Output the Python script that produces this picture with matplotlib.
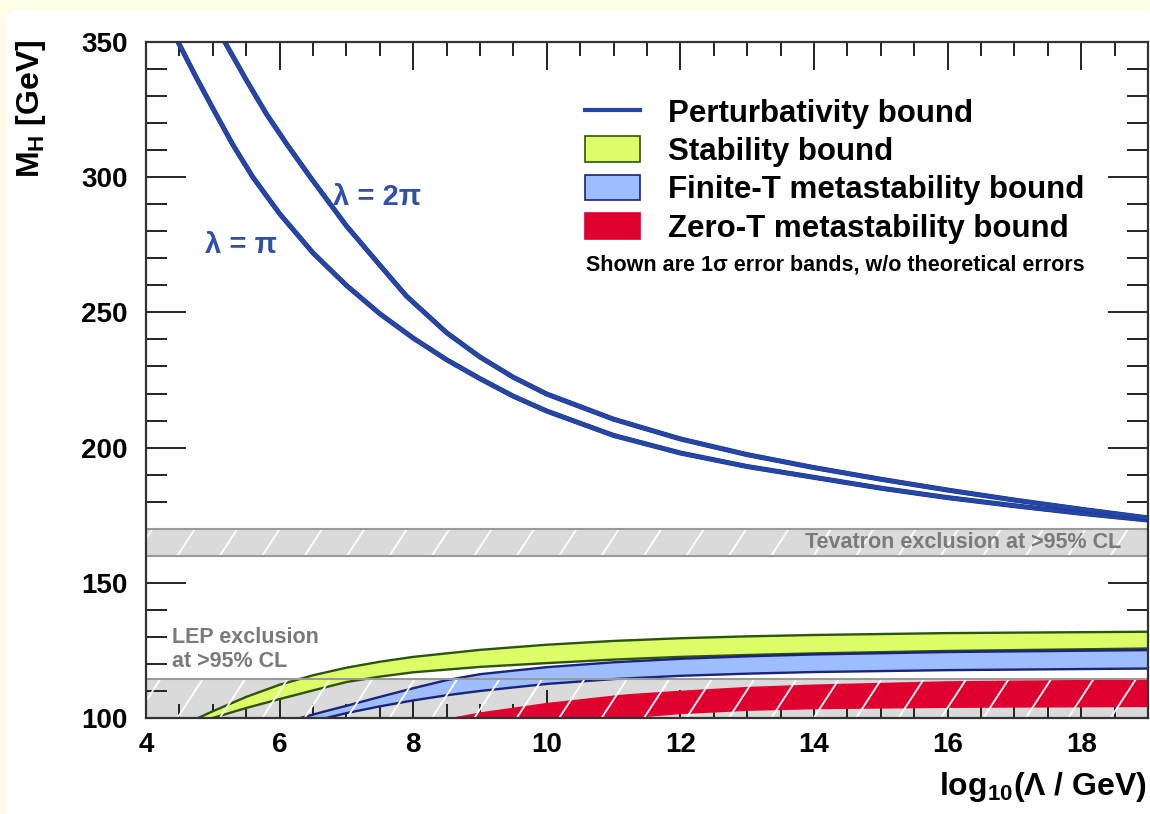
import matplotlib
matplotlib.use("Agg")
import matplotlib.pyplot as plt
import numpy as np
from matplotlib.patches import FancyBboxPatch, Patch
from matplotlib.lines import Line2D
import matplotlib.patheffects as pe

plt.rcParams['font.family'] = ['Liberation Sans', 'DejaVu Sans']
plt.rcParams['font.weight'] = 'bold'
plt.rcParams['mathtext.fontset'] = 'custom'
plt.rcParams['mathtext.rm'] = 'Liberation Sans:bold'
plt.rcParams['mathtext.it'] = 'Liberation Sans:bold'
plt.rcParams['mathtext.bf'] = 'Liberation Sans:bold'

# perturbativity bounds (upper limits), lambda = pi and lambda = 2 pi
pert_pi_x = [4.48, 4.75, 5.0, 5.3, 5.6, 6.0, 6.5, 7.0, 7.5, 8, 8.5, 9, 9.5, 10,
             11, 12, 13, 14, 15, 16, 17, 18, 19]
pert_pi_m = [350, 337, 325.5, 312, 300, 286.5, 272, 260, 249.5, 240.5, 232.5, 225.5, 219, 213.5,
             204.5, 198, 193, 189, 185, 181.5, 178.5, 175.7, 173.2]
pert_2pi_x = [5.18, 5.5, 5.8, 6.1, 6.46, 7.0, 7.5, 7.9, 8.5, 9, 9.5, 10,
              11, 12, 13, 14, 15, 16, 17, 18, 19]
pert_2pi_m = [350, 336, 323.5, 312.5, 300, 282, 267.5, 256, 242.5, 233.5, 226, 219.8,
              210.5, 203.2, 197.4, 192.6, 188.3, 184.3, 180.6, 177.2, 174]

# stability band
stab_x = [4.78, 5.0, 5.5, 6, 6.5, 7, 7.5, 8, 9, 10, 11, 12, 13, 14, 16, 19]
stab_hi = [100, 102.5, 107.8, 112.3, 115.8, 118.6, 120.8, 122.6, 125.2, 127.1, 128.5, 129.5, 130.2, 130.7, 131.4, 131.9]
stab_lo = [None, 100, 103.7, 107, 110.2, 113.3, 115.3, 116.9, 118.9, 120.3, 121.6, 122.6, 123.3, 123.9, 124.8, 125.7]

# finite-T metastability band
fint_x = [6.31, 6.7, 7, 7.5, 8, 8.5, 9, 10, 11, 12, 13, 14, 16, 19]
fint_hi = [100, 102.6, 104.5, 107.8, 111, 114, 116.2, 118.8, 120.6, 121.9, 122.8, 123.5, 124.4, 125.1]
fint_lo = [None, 100, 101.8, 104.3, 106.5, 108.4, 110, 112.6, 114.4, 115.6, 116.4, 117, 117.7, 118.3]

# zero-T metastability band
zero_x = [8.5, 9, 10, 11, 11.2, 12, 13, 14, 16, 19]
zero_hi = [100, 102.3, 105.8, 108.5, 109, 110.3, 111.7, 112.6, 113.8, 114.5]
zero_lo = [None, None, None, None, 100, 101.6, 102.8, 103.4, 103.9, 104.2]

tevatron = (160, 170)
lep = (100, 114.4)

fig = plt.figure(figsize=(11.5, 8.14), dpi=100, facecolor='#fdfce4')
bg = FancyBboxPatch((6 / 1150, -0.05), 1.2, 1.05 - 10 / 814, boxstyle='round,pad=0,rounding_size=0.012',
                    transform=fig.transFigure, facecolor='white', edgecolor='none', zorder=-10)
fig.patches.append(bg)

ax = fig.add_axes([146 / 1150, 1 - 718 / 814, 1002 / 1150, 676 / 814])
ax.set_zorder(1)
ax.set_facecolor('white')
ax.set_xlim(4, 19)
ax.set_ylim(100, 350)


def band(x, hi, lo, color, zo):
    x = np.array(x, float)
    hi = np.array(hi, float)
    lo = np.array([100 if v is None else v for v in lo], float)
    ax.fill_between(x, lo, hi, color=color, lw=0, zorder=zo)


def hatch(y0, y1, zo):
    # white diagonal hatch lines, spaced ~0.63 in x
    dx = 0.0264 * (y1 - y0)
    for x0 in np.arange(3.2, 19.5, 0.635):
        ax.plot([x0, x0 + dx], [y0, y1], color='white', lw=1.3, zorder=zo, clip_on=True)


# exclusion bands
for (y0, y1) in (tevatron, lep):
    ax.axhspan(y0, y1, color='#dadada', lw=0, zorder=1)
ax.axhline(tevatron[0], color='#999999', lw=1.5, zorder=6)
ax.axhline(tevatron[1], color='#999999', lw=1.5, zorder=6)
ax.axhline(lep[1], color='#999999', lw=1.5, zorder=6)

# lower bounds
band(stab_x, stab_hi, stab_lo, '#dcfd68', 2)
band(fint_x, fint_hi, fint_lo, '#9dbdff', 3)
band(zero_x, zero_hi, zero_lo, '#df0030', 4)

ax.plot(stab_x, stab_hi, color='#2c5410', lw=1.7, zorder=5)
ax.plot(stab_x[1:], stab_lo[1:], color='#2c5410', lw=1.7, zorder=5)
ax.plot(fint_x, fint_hi, color='#1a2378', lw=1.7, zorder=5)
ax.plot(fint_x[1:], fint_lo[1:], color='#1a2378', lw=1.7, zorder=5)

hatch(tevatron[0], tevatron[1], 5.5)
hatch(lep[0], lep[1], 5.5)

# perturbativity curves
for xs, ms in ((pert_pi_x, pert_pi_m), (pert_2pi_x, pert_2pi_m)):
    ax.plot(xs, ms, color='#2446a8', lw=3.0, zorder=7, solid_joinstyle='round',
            path_effects=[pe.Stroke(linewidth=3.6, foreground='#1c2c78'), pe.Normal()])

ax.text(4.88, 275, 'λ = π', color='#2f4fa8', fontsize=21, va='center', zorder=8)
ax.text(6.8, 292.7, 'λ = 2π', color='#2f4fa8', fontsize=21, va='center', zorder=8)

ax.text(18.6, 165, 'Tevatron exclusion at >95% CL', color='#7a7a7a', fontsize=15.5,
        ha='right', va='center', zorder=8)
ax.text(4.39, 125.3, 'LEP exclusion\nat >95% CL', color='#7a7a7a', fontsize=15.5,
        ha='left', va='center', linespacing=1.15, zorder=8)

# legend
handles = [Line2D([], [], color='#2446a8', lw=3),
           Patch(facecolor='#dcfd68', edgecolor='#2c5410', lw=1.2),
           Patch(facecolor='#9dbdff', edgecolor='#1a2378', lw=1.2),
           Patch(facecolor='#df0030', edgecolor='#df0030', lw=1.2)]
labels = ['Perturbativity bound', 'Stability bound', 'Finite-T metastability bound',
          'Zero-T metastability bound']
leg = ax.legend(handles, labels, loc='upper left', bbox_to_anchor=(585 / 1150, 1 - 98 / 814),
                bbox_transform=fig.transFigure, frameon=False, fontsize=22.5,
                handlelength=1.75, handleheight=0.9, handletextpad=0.9, labelspacing=0.24,
                borderpad=0, borderaxespad=0)
leg.set_zorder(10)
fig.text(586 / 1150, 1 - 265 / 814, 'Shown are 1σ error bands, w/o theoretical errors',
         fontsize=15.5, ha='left', va='center')

# axes styling
ax.set_xticks(np.arange(4, 19, 2))
ax.set_xticks(np.arange(4, 19.01, 0.5), minor=True)
ax.set_yticks(np.arange(100, 351, 50))
ax.set_yticks(np.arange(100, 351, 10), minor=True)
ax.tick_params(which='both', direction='in', top=True, right=True, color='#222222', width=1.4)
ax.tick_params(axis='x', which='major', length=20, pad=10, labelsize=20)
ax.tick_params(axis='x', which='minor', length=10)
ax.tick_params(axis='y', which='major', length=29, pad=13, labelsize=20)
ax.tick_params(axis='y', which='minor', length=15)
for lab in ax.get_xticklabels() + ax.get_yticklabels():
    lab.set_fontweight('bold')
for s in ax.spines.values():
    s.set_linewidth(1.6)
    s.set_color('#333333')
    s.set_zorder(9)

fig.text(31 / 1150, 1 - 40 / 814, r'M$_{\rm H}$ [GeV]', rotation=90, ha='center', va='top',
         fontsize=23)
fig.text(1147 / 1150, 1 - 787 / 814, r'log$_{\rm 10}$(Λ / GeV)', ha='right', va='center',
         fontsize=23)

fig.savefig('out.png', dpi=100, facecolor=fig.get_facecolor())
